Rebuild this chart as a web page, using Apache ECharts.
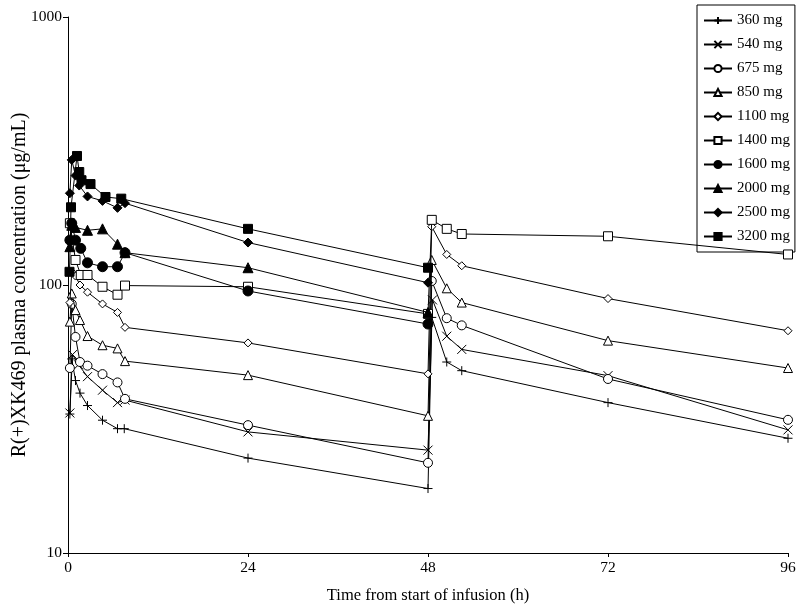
<!DOCTYPE html>
<html><head><meta charset="utf-8">
<script src="https://cdn.jsdelivr.net/npm/echarts@6/dist/echarts.min.js"></script>
<style>html,body{margin:0;padding:0;background:#fff}#c{width:800px;height:610px}</style>
</head><body><div id="c"></div>
<script>
const doses = ['360 mg','540 mg','675 mg','850 mg','1100 mg','1400 mg','1600 mg','2000 mg','2500 mg','3200 mg'];
const xTicks = [0, 24, 48, 72, 96];
const yTicks = [10, 100, 1000];

const t360 = [0.25, 0.5, 1.0, 1.6, 2.6, 4.6, 6.6, 7.5, 24, 48, 48.5, 50.5, 52.5, 72, 96];
const c360 = [33, 53, 44, 39.5, 35.5, 31.3, 29.1, 29.1, 22.6, 17.4, 75.7, 51.6, 47.9, 36.4, 26.8];
const t540 = [0.25, 0.6, 1.4, 2.6, 4.6, 6.6, 7.6, 24, 48, 48.6, 50.5, 52.5, 72, 96];
const c540 = [33.3, 55, 50.4, 45.5, 40.5, 36.4, 37.2, 28.3, 24.2, 88, 64.4, 57.5, 45.9, 28.8];
const t675 = [0.25, 0.5, 1.0, 1.6, 2.6, 4.6, 6.6, 7.6, 24, 48, 48.5, 50.5, 52.5, 72, 96];
const c675 = [49, 85, 64, 51.6, 50, 46.5, 43.3, 37.6, 30, 21.7, 103.5, 75.2, 70.7, 44.6, 31.4];
const t850 = [0.25, 0.5, 1.0, 1.6, 2.6, 4.6, 6.6, 7.6, 24, 48, 48.5, 50.5, 52.5, 72, 96];
const c850 = [73, 93, 80.6, 74, 64.5, 59.6, 58, 52, 46.1, 32.5, 124, 97.2, 86, 62, 49];
const t1100 = [0.25, 0.5, 1.0, 1.6, 2.6, 4.6, 6.6, 7.6, 24, 48, 48.5, 50.5, 52.5, 72, 96];
const c1100 = [86, 112, 108, 100, 94, 85, 79, 69.5, 60.8, 46.6, 165, 130, 118, 89, 67.5];
const t1400 = [0.25, 1.0, 1.7, 2.6, 4.6, 6.6, 7.6, 24, 48, 48.5, 50.5, 52.5, 72, 96];
const c1400 = [170, 124, 109, 109, 98.5, 92, 99.5, 98.5, 78, 175, 162, 155, 152, 130];
const t1600 = [0.25, 0.5, 1.0, 1.7, 2.6, 4.6, 6.6, 7.6, 24, 48];
const c1600 = [147, 170, 147, 137, 121, 117, 117, 132, 95, 71.5];
const t2000 = [0.25, 0.5, 1.0, 2.6, 4.6, 6.6, 7.6, 24, 48];
const c2000 = [139, 167, 164, 160, 162, 142, 132, 116, 79];
const t2500 = [0.25, 0.5, 1.0, 1.5, 2.6, 4.6, 6.6, 7.6, 24, 48];
const c2500 = [220, 293, 256, 235, 214, 206, 194, 202, 144, 102];
const t3200 = [0.2, 0.4, 1.2, 1.5, 1.8, 3.0, 5.0, 7.1, 24, 48];
const c3200 = [112, 195, 303, 264, 246, 238, 213, 210, 162, 116];

const times = [t360, t540, t675, t850, t1100, t1400, t1600, t2000, t2500, t3200];
const concs = [c360, c540, c675, c850, c1100, c1400, c1600, c2000, c2500, c3200];

const PLUS = 'path://M0,5H10M5,0V10';
const CROSS = 'path://M0,0L10,10M10,0L0,10';
const styles = [
  {symbol: PLUS, size: 9, fill: 'rgba(0,0,0,0)'},
  {symbol: CROSS, size: 9, fill: 'rgba(0,0,0,0)'},
  {symbol: 'circle', size: 9, fill: '#fff'},
  {symbol: 'triangle', size: 9, fill: '#fff'},
  {symbol: 'diamond', size: 8, fill: '#fff'},
  {symbol: 'rect', size: 9, fill: '#fff'},
  {symbol: 'circle', size: 10, fill: '#000'},
  {symbol: 'triangle', size: 10, fill: '#000'},
  {symbol: 'diamond', size: 9, fill: '#000'},
  {symbol: 'rect', size: 9, fill: '#000'}
];

const FONT = '"Liberation Serif", "DejaVu Serif", serif';

const series = doses.map((name, i) => ({
  name: name,
  type: 'line',
  data: times[i].map((t, k) => [t, concs[i][k]]),
  symbol: styles[i].symbol,
  symbolSize: styles[i].size,
  showAllSymbol: true,
  lineStyle: {color: '#000', width: 1},
  itemStyle: {color: styles[i].fill, borderColor: '#000', borderWidth: 1},
  emphasis: {disabled: true},
  z: 2 + i
}));

const chart = echarts.init(document.getElementById('c'));
chart.setOption({
  animation: false,
  backgroundColor: '#fff',
  textStyle: {fontFamily: FONT},
  grid: {left: 68, right: 12, top: 17, bottom: 57, containLabel: false, outerBoundsMode: 'none'},
  xAxis: {
    type: 'value', min: xTicks[0], max: xTicks[xTicks.length - 1], interval: 24,
    name: 'Time from start of infusion (h)', nameLocation: 'middle', nameGap: 34,
    nameMoveOverlap: false,
    nameTextStyle: {fontFamily: FONT, fontSize: 16.5, color: '#000'},
    axisLine: {lineStyle: {color: '#000', width: 1}},
    axisTick: {show: true, inside: false, length: 4, lineStyle: {color: '#000'}},
    axisLabel: {fontFamily: FONT, fontSize: 15.5, color: '#000', margin: 7},
    splitLine: {show: false}
  },
  yAxis: {
    type: 'log', logBase: 10, min: yTicks[0], max: yTicks[yTicks.length - 1],
    name: 'R(+)XK469 plasma concentration (μg/mL)', nameLocation: 'middle', nameGap: 38,
    nameMoveOverlap: false,
    nameTextStyle: {fontFamily: FONT, fontSize: 20, color: '#000'},
    axisLine: {show: true, lineStyle: {color: '#000', width: 1}},
    axisTick: {show: true, inside: false, length: 5, lineStyle: {color: '#000'}},
    axisLabel: {fontFamily: FONT, fontSize: 15.5, color: '#000', margin: 6,
      formatter: v => String(Math.round(v))},
    splitLine: {show: false},
    minorTick: {show: false}
  },
  legend: {
    orient: 'vertical', left: 697, top: 5,
    data: doses,
    backgroundColor: '#fff',
    borderColor: '#000', borderWidth: 1,
    padding: [8, 5, 8, 6],
    itemGap: 9, itemWidth: 28, itemHeight: 9,
    textStyle: {fontFamily: FONT, fontSize: 15, color: '#000'}
  },
  series: series
});
</script>
</body></html>
